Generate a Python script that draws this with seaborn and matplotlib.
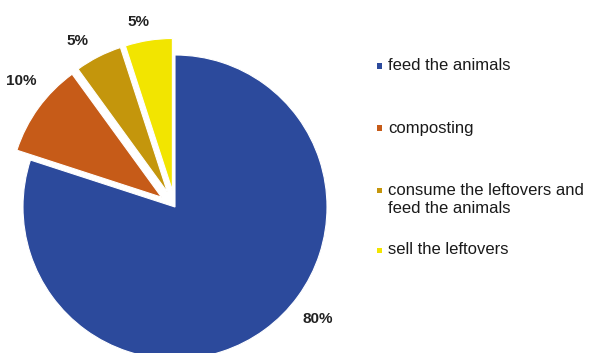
import matplotlib
matplotlib.use("Agg")
import matplotlib.pyplot as plt
import seaborn as sns
from matplotlib.patches import Rectangle

sns.set_theme(style="white")
plt.rcParams['font.family'] = ['Liberation Sans', 'DejaVu Sans']

categories = ["feed the animals", "composting",
              "consume the leftovers and\nfeed the animals", "sell the leftovers"]
values = [80, 10, 5, 5]
pct_labels = ["80%", "10%", "5%", "5%"]
colors = ["#2C4A9C", "#C65B18", "#C4960C", "#F2E500"]
explode = [0, 0.11, 0.11, 0.11]
# label anchor positions (in pie radius units)
label_pos = [(0.94, -0.74), (-1.01, 0.83), (-0.64, 1.09), (-0.24, 1.22)]

fig = plt.figure(figsize=(5.89, 3.53), dpi=100)
W, H = 589, 353
cx, cy, R = 175, 207, 152
lim = 1.5
half = R * lim
ax = fig.add_axes([(cx - half) / W, (H - cy - half) / H, 2 * half / W, 2 * half / H])

wedges, texts, autotexts = ax.pie(values, colors=colors, explode=explode,
                                  startangle=90, counterclock=False, radius=1,
                                  autopct=lambda p: f"{p:.0f}%", pctdistance=1.14,
                                  wedgeprops=dict(edgecolor="white", linewidth=0.8),
                                  textprops=dict(fontsize=11, fontweight="bold", color="#222222"))
ax.set_xlim(-lim, lim)
ax.set_ylim(-lim, lim)
ax.set_aspect("equal", adjustable="box")
ax.axis("off")
for t, lab, pos in zip(autotexts, pct_labels, label_pos):
    t.set_text(lab)
    t.set_position(pos)

# legend drawn manually
ys = [66, 128, 190, 250]
for c, lab, y in zip(colors, categories, ys):
    fig.patches.append(Rectangle((377 / W, (H - y - 2.5) / H), 5 / W, 5 / H,
                                 transform=fig.transFigure, facecolor=c, edgecolor="none"))
    if "\n" in lab:
        fig.text(388 / W, (H - y + 7) / H, lab, fontsize=12, color="#1a1a1a",
                 va="top", ha="left", linespacing=1.25)
    else:
        fig.text(388 / W, (H - y) / H, lab, fontsize=12, color="#1a1a1a",
                 va="center", ha="left")

fig.savefig("out.png", dpi=100)
